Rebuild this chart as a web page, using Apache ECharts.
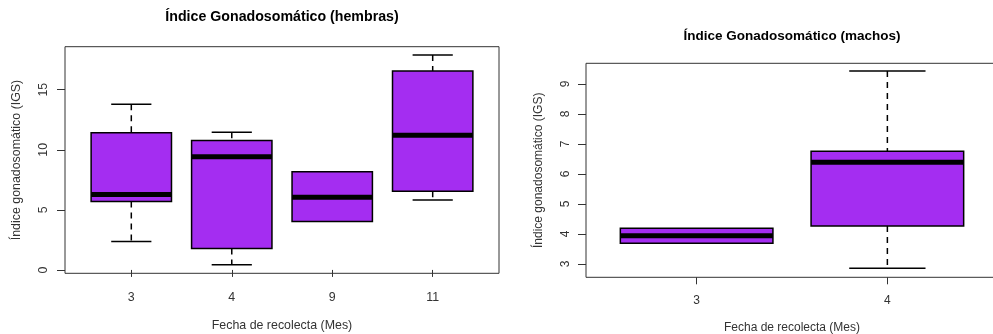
<!DOCTYPE html>
<html>
<head>
<meta charset="utf-8">
<script src="https://cdn.jsdelivr.net/npm/echarts@6/dist/echarts.min.js"></script>
<style>html,body{margin:0;padding:0;background:#fff}#c{width:993px;height:334px}</style>
</head>
<body>
<div id="c"></div>
<script>
// ---- data ----
const catsH = ['3', '4', '9', '11'];
const lowH  = [2.36, 0.44, 4.03, 5.83];
const q1H   = [5.69, 1.78, 4.03, 6.55];
const medH  = [6.27, 9.42, 6.05, 11.22];
const q3H   = [11.42, 10.78, 8.17, 16.55];
const highH = [13.78, 11.47, 8.17, 17.88];
const ticksH = [0, 5, 10, 15];

const catsM = ['3', '4'];
const lowM  = [3.69, 2.86];
const q1M   = [3.69, 4.27];
const medM  = [3.94, 6.39];
const q3M   = [4.19, 6.76];
const highM = [4.19, 9.43];
const ticksM = [3, 4, 5, 6, 7, 8, 9];

const FONT = 'Liberation Sans, Arial, sans-serif';
const PURPLE = '#A42DF1';

function build(cats, lo, q1, med, q3, hi) {
  return cats.map((c, i) => [i + 1, lo[i], q1[i], med[i], q3[i], hi[i]]);
}

function renderBox(params, api) {
  const x = api.value(0), lo = api.value(1), a = api.value(2), m = api.value(3), b = api.value(4), hi = api.value(5);
  const bw = 0.4, cw = 0.2;
  const tl = api.coord([x - bw, b]), br = api.coord([x + bw, a]);
  const cTop = api.coord([x, hi]), cBot = api.coord([x, lo]);
  const cl = api.coord([x - cw, hi])[0], cr = api.coord([x + cw, hi])[0];
  const ml = api.coord([x - bw, m]);
  const dash = {stroke: '#000', lineWidth: 1.5, lineDash: [6, 5]};
  const solid = {stroke: '#000', lineWidth: 1.5};
  const children = [];
  if (hi > b) {
    children.push({type: 'line', shape: {x1: cTop[0], y1: cTop[1], x2: cTop[0], y2: tl[1]}, style: dash});
    children.push({type: 'line', shape: {x1: cl, y1: cTop[1], x2: cr, y2: cTop[1]}, style: solid});
  }
  if (lo < a) {
    children.push({type: 'line', shape: {x1: cBot[0], y1: br[1], x2: cBot[0], y2: cBot[1]}, style: dash});
    children.push({type: 'line', shape: {x1: cl, y1: cBot[1], x2: cr, y2: cBot[1]}, style: solid});
  }
  children.push({type: 'rect', shape: {x: tl[0], y: tl[1], width: br[0] - tl[0], height: br[1] - tl[1]},
    style: {fill: PURPLE, stroke: '#000', lineWidth: 1.5}});
  children.push({type: 'line', shape: {x1: ml[0], y1: ml[1], x2: br[0], y2: ml[1]}, style: {stroke: '#000', lineWidth: 5}});
  return {type: 'group', children};
}

function xAxisFor(idx, cats, min, max, fs, gap, margin) {
  const vals = cats.map((c, i) => i + 1);
  return {
    type: 'value', gridIndex: idx, min, max,
    name: 'Fecha de recolecta (Mes)', nameLocation: 'middle', nameGap: gap,
    nameTextStyle: {fontFamily: FONT, fontSize: fs, color: '#333'},
    axisLine: {show: false},
    axisTick: {show: true, length: 7, customValues: vals, lineStyle: {color: '#333', width: 1}},
    axisLabel: {customValues: vals, margin: margin, fontFamily: FONT, fontSize: fs, color: '#333',
      formatter: v => cats[Math.round(v) - 1]},
    splitLine: {show: false}
  };
}

function yAxisFor(idx, ticks, min, max, fs, gap, margin) {
  return {
    type: 'value', gridIndex: idx, min, max,
    name: 'Índice gonadosomático (IGS)', nameLocation: 'middle', nameGap: gap, nameRotate: 90,
    nameTextStyle: {fontFamily: FONT, fontSize: fs, color: '#333'},
    axisLine: {show: false},
    axisTick: {show: true, length: 8, customValues: ticks, lineStyle: {color: '#333', width: 1}},
    axisLabel: {customValues: ticks, rotate: 90, margin: margin, fontFamily: FONT, fontSize: fs, color: '#333'},
    splitLine: {show: false}
  };
}

const chart = echarts.init(document.getElementById('c'));
chart.setOption({
  animation: false,
  backgroundColor: '#fff',
  graphic: [
    {type: 'text', x: 282, y: 17.5, style: {text: 'Índice Gonadosomático (hembras)', font: 'bold 14.2px ' + FONT, fill: '#000', textAlign: 'center', textVerticalAlign: 'middle'}},
    {type: 'text', x: 792, y: 36, style: {text: 'Índice Gonadosomático (machos)', font: 'bold 13.5px ' + FONT, fill: '#000', textAlign: 'center', textVerticalAlign: 'middle'}}
  ],
  grid: [
    {left: 65, top: 46.7, width: 434, height: 226.6, outerBoundsMode: 'none', containLabel: false, show: true, borderColor: '#333', borderWidth: 1, backgroundColor: 'transparent'},
    {left: 586, top: 63.3, width: 412, height: 214, outerBoundsMode: 'none', containLabel: false, show: true, borderColor: '#333', borderWidth: 1, backgroundColor: 'transparent'}
  ],
  xAxis: [
    xAxisFor(0, catsH, 0.34, 4.66, 12.4, 46, 18),
    xAxisFor(1, catsM, 0.42, 2.58, 12, 44.5, 17)
  ],
  yAxis: [
    yAxisFor(0, ticksH, -0.28, 18.58, 12.4, 42, 15),
    yAxisFor(1, ticksM, 2.556, 9.69, 12, 41, 14)
  ],
  series: [
    {type: 'custom', xAxisIndex: 0, yAxisIndex: 0, renderItem: renderBox, data: build(catsH, lowH, q1H, medH, q3H, highH), clip: false},
    {type: 'custom', xAxisIndex: 1, yAxisIndex: 1, renderItem: renderBox, data: build(catsM, lowM, q1M, medM, q3M, highM), clip: false}
  ]
});
</script>
</body>
</html>
